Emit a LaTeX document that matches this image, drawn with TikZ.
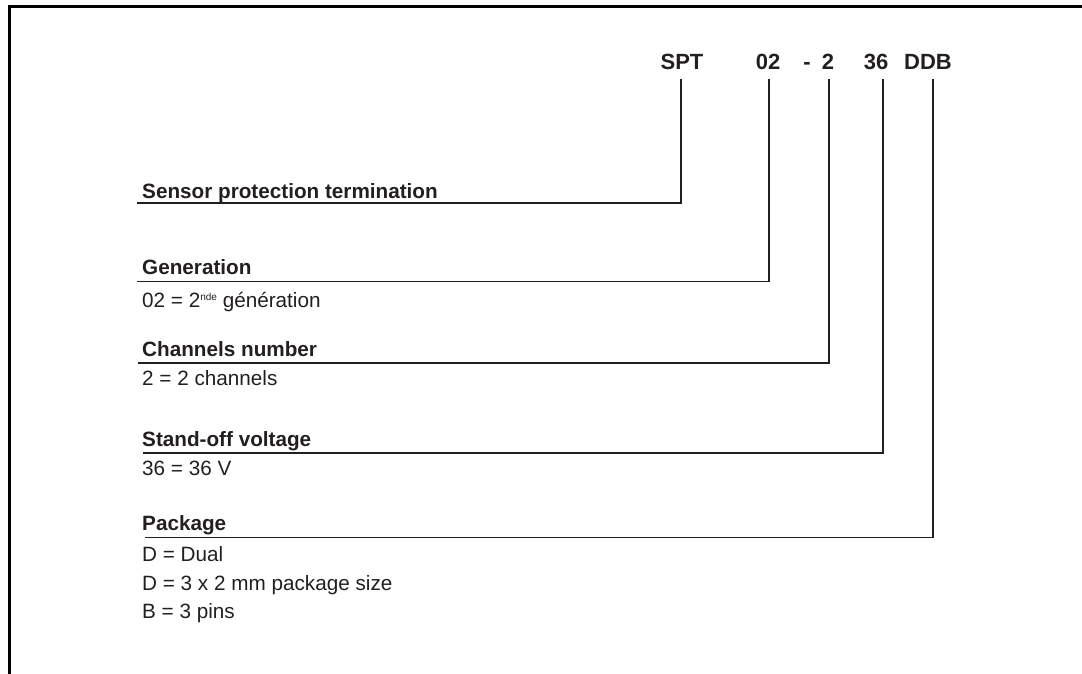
\documentclass[tikz,border=0pt]{standalone}
\usepackage{fontspec}
\setmainfont{Liberation Sans}
\definecolor{ink}{RGB}{35,31,32}
\begin{document}
\begin{tikzpicture}[x=1pt,y=-1pt,
  code/.style={font=\fontsize{22}{26}\selectfont\bfseries, text=ink, inner sep=0pt, anchor=base},
  head/.style={font=\fontsize{20.7}{24}\selectfont\bfseries, text=ink, inner sep=0pt, anchor=base west},
  desc/.style={font=\fontsize{20.7}{24}\selectfont, text=ink, inner sep=0pt, anchor=base west},
  conn/.style={draw=ink, line width=1.9pt},
  frameline/.style={draw=black, line width=2.5pt}]
\useasboundingbox (0,0) rectangle (1082,674);
% frame
\draw[frameline] (9.5,690) -- (9.5,6.5) -- (1095,6.5);
% code
\node[code] (cSPT) at (682,70) {SPT};
\node[code] (c02) at (768,70) {02};
\node[code] (cdash) at (807,70) {-};
\node[code] (c2) at (828,70) {2};
\node[code] (c36) at (876,70) {36};
\node[code] (cDDB) at (928,70) {DDB};
% connector tops
\coordinate (tSPT) at (681,79);
\coordinate (t02) at (769,79);
\coordinate (t2) at (829,79);
\coordinate (t36) at (883,79);
\coordinate (tDDB) at (933,79);
% headings
\node[head] (hS) at (142,198) {Sensor protection termination};
\coordinate (uS) at (137,203);
\node[head] (hG) at (142,274) {Generation};
\coordinate (uG) at (137,281.5);
\node[desc] (dG) at (142,307) {02 = 2\raisebox{7pt}{\fontsize{10}{10}\selectfont nde} génération};
\node[head] (hC) at (142,356) {Channels number};
\coordinate (uC) at (138,363);
\node[desc] (dC) at (142,385) {2 = 2 channels};
\node[head] (hV) at (142,446) {Stand-off voltage};
\coordinate (uV) at (143,453);
\node[desc] (dV) at (142,475) {36 = 36 V};
\node[head] (hP) at (142,530) {Package};
\coordinate (uP) at (145,537.5);
\node[desc] (dP1) at (142,561) {D = Dual};
\node[desc] (dP2) at (142,590) {D = 3 x 2 mm package size};
\node[desc] (dP3) at (142,618) {B = 3 pins};
% connectors
\draw[conn] (tSPT) |- (uS);
\draw[conn] (t02) |- (uG);
\draw[conn] (t2) |- (uC);
\draw[conn] (t36) |- (uV);
\draw[conn] (tDDB) |- (uP);
\end{tikzpicture}
\end{document}
